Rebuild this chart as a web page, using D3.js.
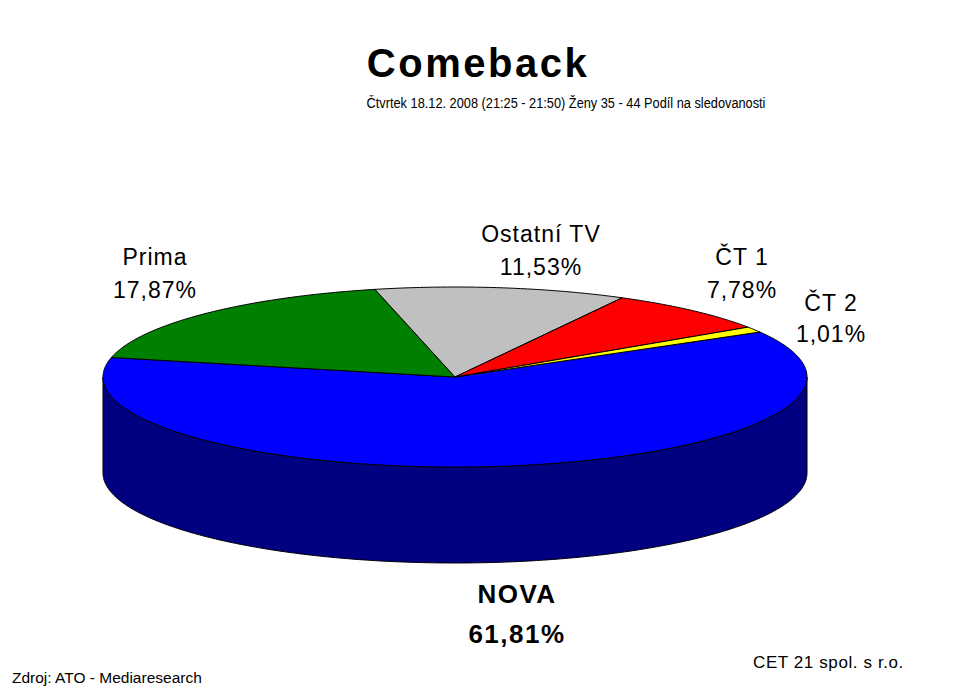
<!DOCTYPE html>
<html>
<head>
<meta charset="utf-8">
<script src="https://cdn.jsdelivr.net/npm/d3@7"></script>
<style>
  body { margin: 0; background: #fff; }
  text { font-family: "Liberation Sans", Arial, sans-serif; fill: #000; }
</style>
</head>
<body>
<svg width="959" height="697"></svg>
<script>
// chart data
const categories = ["NOVA", "Prima", "Ostatní TV", "ČT 1", "ČT 2"];
const shares = [61.81, 17.87, 11.53, 7.78, 1.01];
const titleText = "Comeback";
const subtitleText = "Čtvrtek 18.12. 2008 (21:25 - 21:50) Ženy 35 - 44 Podíl na sledovanosti";
const sourceText = "Zdroj: ATO - Mediaresearch";
const ownerText = "CET 21 spol. s r.o.";

// look
const topColors = ["#0000ff", "#008000", "#c0c0c0", "#ff0000", "#ffff00"];
const sideColors = ["#000080", "#004000", "#606060", "#800000", "#808000"];

// label spots (centre x, first baseline)
const labelSpots = [[517, 603], [155, 265], [541, 242], [742, 265], [831, 311]];

const svg = d3.select("svg"),
      width = +svg.attr("width"),
      height = +svg.attr("height");

const cx = 455, cy = 377, rx = 352, ry = 90, depth = 96;
const rad = Math.PI / 180;

const fmt = d3.formatLocale({decimal: ",", thousands: " ", grouping: [3], currency: ["", " Kč"]}).format(".2f");

const pie = d3.pie()
    .sort(null)
    .value(d => d)
    .startAngle(60 * rad)
    .endAngle(60 * rad + 2 * Math.PI);

const arcs = pie(shares);

// project an angle of the pie (0 = 12 o'clock, clockwise) onto the tilted disc
function pt(a, drop) {
    return [cx + rx * Math.sin(a), cy - ry * Math.cos(a) + (drop || 0)];
}
function arcPts(a0, a1, drop) {
    const n = Math.max(2, Math.ceil(Math.abs(a1 - a0) / 0.01));
    return d3.range(n + 1).map(i => pt(a0 + (a1 - a0) * i / n, drop));
}
const line = d3.line();

// front wall: only the part between 3 and 9 o'clock faces us
const walls = [];
arcs.forEach((d, i) => {
    [[90, 270], [450, 630]].forEach(([lo, hi]) => {
        const b0 = Math.max(d.startAngle, lo * rad),
              b1 = Math.min(d.endAngle, hi * rad);
        if (b1 > b0) walls.push({i: i, b0: b0, b1: b1});
    });
});

svg.append("g")
    .selectAll("path")
    .data(walls)
    .enter()
    .append("path")
    .attr("d", w => line(arcPts(w.b0, w.b1, 0).concat(arcPts(w.b1, w.b0, depth))) + "Z")
    .attr("fill", w => sideColors[w.i])
    .attr("stroke", "#000")
    .attr("stroke-width", 1)
    .attr("stroke-linejoin", "round");

svg.append("g")
    .selectAll("path")
    .data(arcs)
    .enter()
    .append("path")
    .attr("d", d => line([[cx, cy]].concat(arcPts(d.startAngle, d.endAngle, 0))) + "Z")
    .attr("fill", (d, i) => topColors[i])
    .attr("stroke", "#000")
    .attr("stroke-width", 1)
    .attr("stroke-linejoin", "round");

// titles
svg.append("text")
    .attr("x", 478)
    .attr("y", 77)
    .attr("text-anchor", "middle")
    .style("font-size", "40px")
    .style("font-weight", "bold")
    .style("letter-spacing", "2.5px")
    .text(titleText);

// the original uses a narrow face here, so squeeze it horizontally
svg.append("text")
    .attr("transform", "translate(566,108) scale(0.852,1)")
    .attr("text-anchor", "middle")
    .style("font-size", "15px")
    .text(subtitleText);

// slice labels
const labels = svg.append("g")
    .selectAll("text")
    .data(arcs)
    .enter()
    .append("text")
    .attr("text-anchor", "middle")
    .style("font-size", (d, i) => i === 0 ? "26px" : "23px")
    .style("font-weight", (d, i) => i === 0 ? "bold" : "normal")
    .style("letter-spacing", (d, i) => i === 0 ? "1.5px" : "1px");

labels.append("tspan")
    .attr("x", (d, i) => labelSpots[i][0])
    .attr("y", (d, i) => labelSpots[i][1])
    .text((d, i) => categories[i]);

labels.append("tspan")
    .attr("x", (d, i) => labelSpots[i][0])
    .attr("y", (d, i) => labelSpots[i][1] + (i === 0 ? 40 : (i === 4 ? 31 : 33)))
    .text(d => fmt(d.data) + "%");

// footer
svg.append("text")
    .attr("x", 12)
    .attr("y", 683)
    .style("font-size", "15.5px")
    .text(sourceText);

svg.append("text")
    .attr("x", 753)
    .attr("y", 668)
    .style("font-size", "17px")
    .style("letter-spacing", "0.6px")
    .text(ownerText);
</script>
</body>
</html>
